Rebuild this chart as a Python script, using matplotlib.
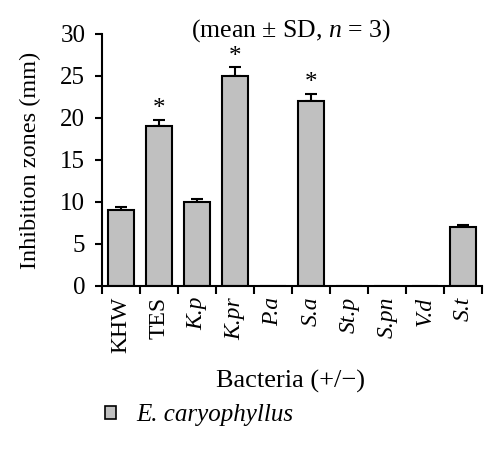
import matplotlib
matplotlib.use("Agg")
import matplotlib.pyplot as plt
import numpy as np
from matplotlib.patches import Patch

plt.rcParams['font.family'] = ['Liberation Serif', 'DejaVu Serif']
plt.rcParams['mathtext.fontset'] = 'custom'
plt.rcParams['mathtext.rm'] = 'Liberation Serif'
plt.rcParams['mathtext.it'] = 'Liberation Serif:italic'

categories = ["KHW", "TES", "K.p", "K.pr", "P.a", "S.a", "St.p", "S.pn", "V.d", "S.t"]
italic_flags = [False, False, True, True, True, True, True, True, True, True]
values = [9.0, 19.0, 10.0, 25.0, 0.0, 22.0, 0.0, 0.0, 0.0, 7.0]
errors = [0.35, 0.8, 0.4, 1.1, 0.0, 0.9, 0.0, 0.0, 0.0, 0.2]
significant = [False, True, False, True, False, True, False, False, False, False]
yticks = [0, 5, 10, 15, 20, 25, 30]

fig = plt.figure(figsize=(5.0, 4.53), dpi=100)
ax = fig.add_axes([0.204, 0.369, 0.76, 0.556])

x = np.arange(len(categories))
for xi, v, e in zip(x, values, errors):
    if e > 0:
        ax.errorbar(xi, v, yerr=[[0], [e]], fmt='none', ecolor='black',
                    elinewidth=1.5, capsize=4, capthick=1.5, zorder=1)
ax.bar(x, values, width=0.68, color='#c0c0c0', edgecolor='black', linewidth=1.5, zorder=2)

for xi, v, e, s in zip(x, values, errors, significant):
    if s:
        ax.text(xi, v + e - 0.1, "*", ha='center', va='bottom', fontsize=18)

ax.set_xlim(-0.5, len(categories) - 0.5)
ax.set_ylim(0, 30)
ax.set_yticks(yticks)
ax.set_yticklabels([str(t) for t in yticks], fontsize=18)
ax.set_xticks(np.arange(len(categories) + 1) - 0.5)
ax.set_xticklabels([])
ax.tick_params(axis='x', direction='out', length=6, width=1.5)
ax.tick_params(axis='y', direction='out', length=5, width=1.5, pad=7)
for xi, lab, it in zip(x, categories, italic_flags):
    ax.text(xi, -1.3, lab, rotation=90, ha='center', va='top', fontsize=17,
            style='italic' if it else 'normal', transform=ax.transData)

for sp in ['top', 'right']:
    ax.spines[sp].set_visible(False)
ax.spines['left'].set_linewidth(1.5)
ax.spines['bottom'].set_linewidth(1.5)

ax.set_ylabel("Inhibition zones (mm)", fontsize=17.5, labelpad=14)
fig.text(0.582, 0.932, r"(mean $\pm$ SD, $n$ = 3)", ha='center', va='center', fontsize=18.5)
fig.text(0.582, 0.157, "Bacteria (+/\u2212)", ha='center', va='center', fontsize=19)

handles = [Patch(facecolor='#c0c0c0', edgecolor='black', linewidth=1.2)]
leg = fig.legend(handles, ["E. caryophyllus"], loc='center left',
                 bbox_to_anchor=(0.165, 0.083), frameon=False,
                 prop={'style': 'italic', 'size': 18},
                 handlelength=0.45, handleheight=0.45, handletextpad=0.8)

fig.savefig("out.png", dpi=100)
